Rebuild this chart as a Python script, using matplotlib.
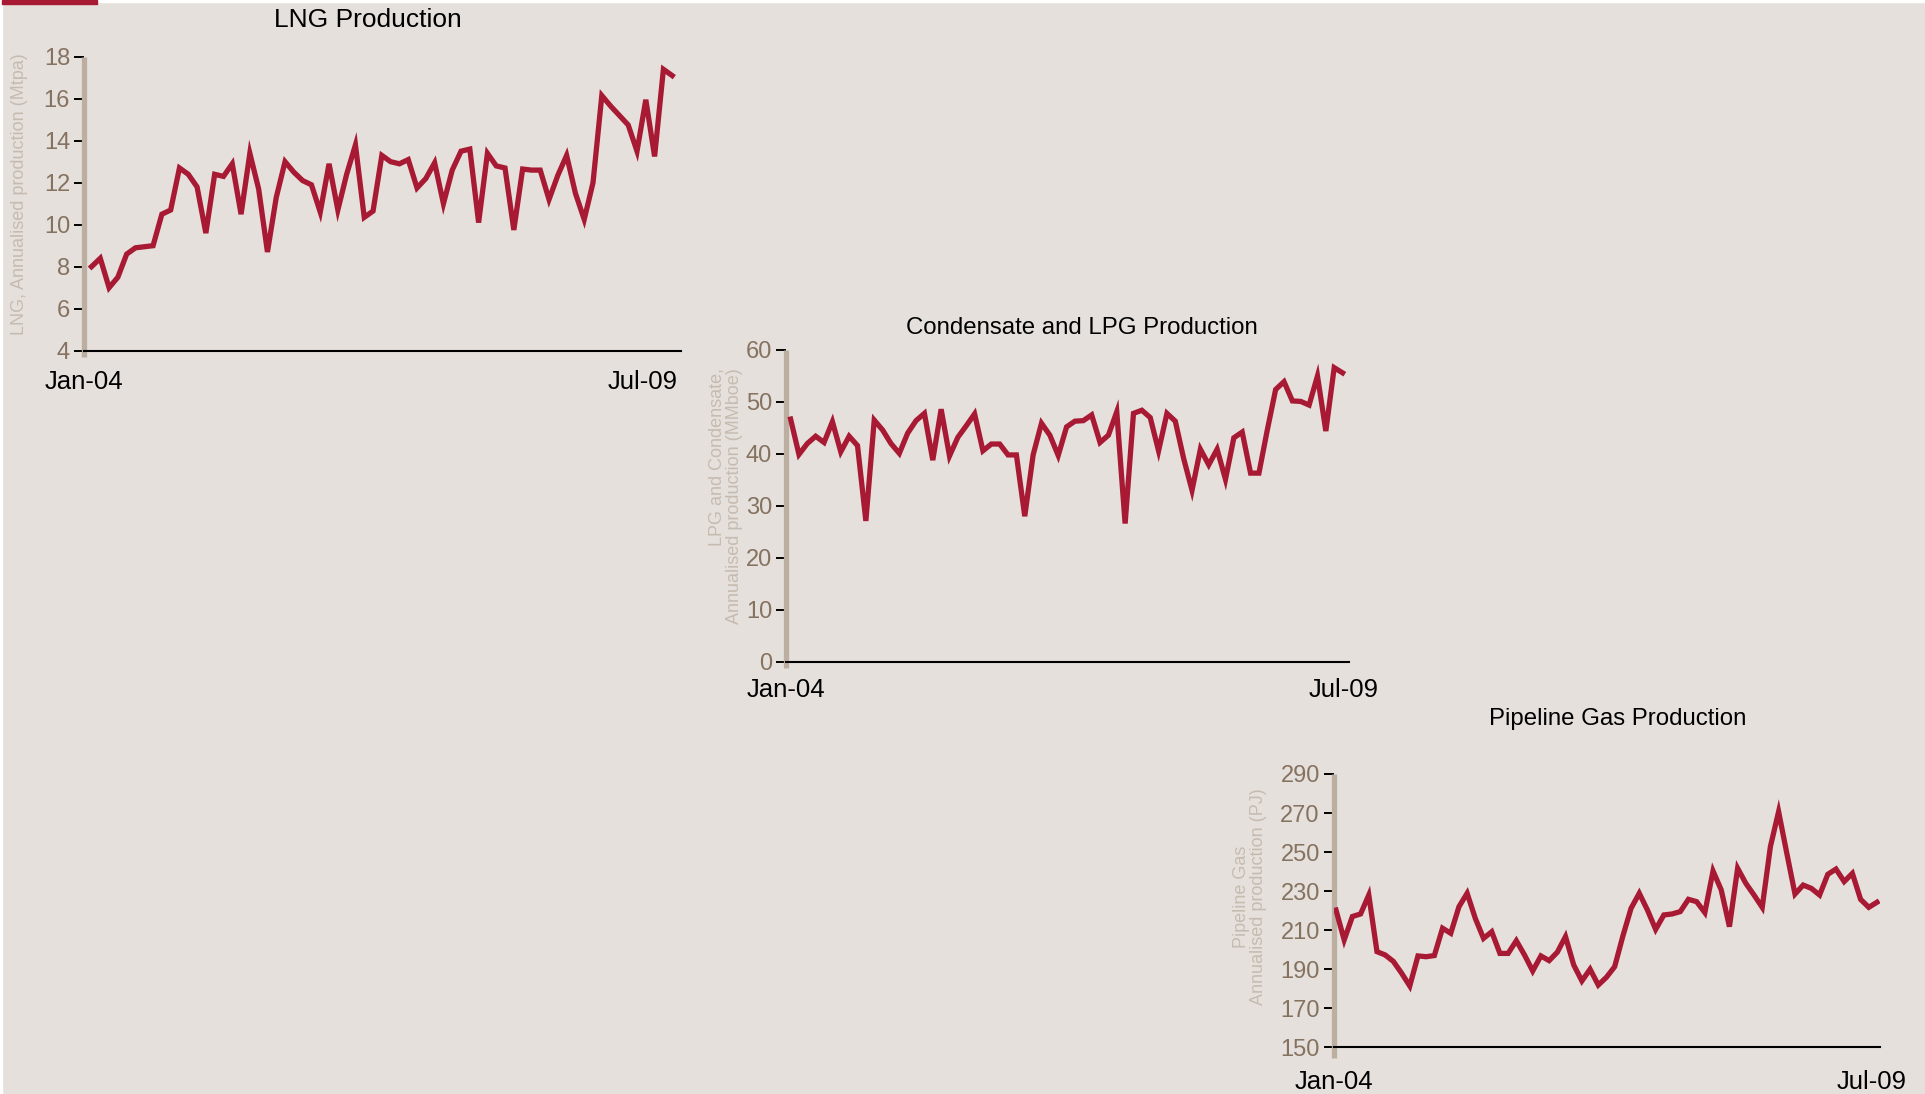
import matplotlib
matplotlib.use('Agg')
import matplotlib.pyplot as plt
from matplotlib.patches import Rectangle

W, H = 1925, 1094

months = list(range(67))  # Jan-04 .. Jul-09, monthly

lng = [8.0, 8.4, 7.0, 7.5, 8.6, 8.9, 8.95, 9.0, 10.5, 10.7,
       12.7, 12.4, 11.8, 9.6, 12.4, 12.3, 12.9, 10.5, 13.4, 11.7,
       8.7, 11.3, 13.0, 12.5, 12.1, 11.9, 10.6, 12.9, 10.7, 12.4,
       13.8, 10.35, 10.65, 13.3, 13.0, 12.9, 13.1, 11.75, 12.2, 12.95,
       11.0, 12.6, 13.5, 13.6, 10.1, 13.4, 12.8, 12.7, 9.75, 12.65,
       12.6, 12.6, 11.2, 12.35, 13.3, 11.5, 10.25, 12.0, 16.15, 15.65,
       15.2, 14.75, 13.5, 15.95, 13.25, 17.4, 17.1]

condensate = [46.7, 39.9, 42.0, 43.4, 42.2, 46.2, 40.4, 43.4, 41.6, 27.1,
              46.5, 44.6, 42.0, 40.1, 44.0, 46.4, 47.8, 38.8, 48.6, 39.6,
              43.2, 45.4, 47.7, 40.6, 41.9, 41.9, 39.8, 39.8, 28.0, 39.8,
              45.9, 43.6, 39.7, 45.2, 46.3, 46.4, 47.5, 42.2, 43.6, 48.1,
              26.6, 47.8, 48.4, 47.0, 40.6, 47.8, 46.3, 39.1, 33.0, 40.9,
              37.9, 40.9, 35.1, 43.1, 44.2, 36.3, 36.3, 44.6, 52.4, 53.9,
              50.2, 50.1, 49.4, 55.0, 44.4, 56.6, 55.6]

pipeline = [220.3, 205.0, 217.0, 218.3, 228.0, 199.0, 197.3, 194.0, 188.0, 181.4,
            196.8, 196.4, 197.0, 211.0, 208.4, 222.0, 228.9, 216.0, 205.8, 209.2,
            198.1, 198.1, 204.6, 197.3, 189.1, 196.8, 194.4, 198.7, 206.7, 192.2,
            184.0, 190.0, 181.9, 185.9, 191.3, 207.0, 221.2, 228.9, 220.3, 210.4,
            217.8, 218.3, 219.5, 225.8, 224.6, 219.0, 240.3, 230.6, 211.8, 241.7,
            234.0, 228.0, 221.7, 252.8, 270.7, 249.4, 228.5, 233.1, 231.4, 228.0,
            238.6, 241.3, 234.9, 239.1, 225.8, 221.7, 224.3]

lng_ticks = [4, 6, 8, 10, 12, 14, 16, 18]
cond_ticks = [0, 10, 20, 30, 40, 50, 60]
pipe_ticks = [150, 170, 190, 210, 230, 250, 270, 290]

BG = '#e5e0dc'
LINE = '#a81a33'
TICKLAB = '#85725f'
YLAB = '#c6bbb0'
BAR = '#bcafa2'

plt.rcParams['font.family'] = ['Liberation Sans', 'DejaVu Sans']

fig = plt.figure(figsize=(W / 100, H / 100), dpi=100, facecolor=BG)

# thin frame / logo remnants along the top-left edge
fig.patches.append(Rectangle((0, 1 - 2 / H), 1, 2 / H, transform=fig.transFigure,
                             color='white', zorder=0))
fig.patches.append(Rectangle((0, 0), 1.5 / W, 1, transform=fig.transFigure,
                             color='white', zorder=0))
fig.patches.append(Rectangle((2 / W, 1 - 4 / H), 95 / W, 4 / H, transform=fig.transFigure,
                             color=LINE, zorder=1))


def fx(x):
    return x / W


def fy(y):
    return 1 - y / H


def panel(box, xlim, values, ticks, title, title_xy, title_size, ylabel, ylabel_xy,
          ylab_align, jul_x, lab_y, bar_drop):
    left, right, top, bottom = box
    ax = fig.add_axes([fx(left), fy(bottom), (right - left) / W, (bottom - top) / H])
    ax.set_facecolor('none')
    ax.plot(months, values, color=LINE, lw=3.8, solid_joinstyle='miter', zorder=3)
    ax.set_xlim(*xlim)
    ax.set_ylim(ticks[0], ticks[-1])
    ax.set_yticks(ticks)
    ax.set_xticks([])
    for s in ['top', 'right', 'left']:
        ax.spines[s].set_visible(False)
    ax.spines['bottom'].set_color('black')
    ax.spines['bottom'].set_linewidth(1.5)
    ax.tick_params(axis='y', length=7, width=1.4, color='black', labelcolor=TICKLAB,
                   labelsize=17, pad=3)
    # tan vertical axis bar
    ax.plot([0, 0], [-bar_drop, 1], transform=ax.transAxes, color=BAR, lw=3.8,
            clip_on=False, solid_capstyle='butt', zorder=2)
    fig.text(fx(title_xy[0]), fy(title_xy[1]), title, ha='center', va='center',
             fontsize=title_size, color='black')
    fig.text(fx(ylabel_xy[0]), fy(ylabel_xy[1]), ylabel, ha='center', va='center',
             rotation=90, fontsize=13, color=YLAB, multialignment=ylab_align,
             linespacing=1.05)
    fig.text(fx(left), fy(lab_y), 'Jan-04', ha='center', va='center', fontsize=18.5)
    fig.text(fx(jul_x), fy(lab_y), 'Jul-09', ha='center', va='center', fontsize=18.5)
    return ax


panel((84, 681, 56.7, 350.7), (-0.85, 67.0), lng, lng_ticks,
      'LNG Production', (368, 20), 19,
      'LNG, Annualised production (Mtpa)', (20, 194), 'center',
      643, 382, 0.022)

panel((786, 1349, 350, 661.7), (-0.55, 66.77), condensate, cond_ticks,
      'Condensate and LPG Production', (1082, 328), 17.3,
      'LPG and Condensate,\nAnnualised production (MMboe)', (726, 496), 'right',
      1344, 690, 0.02)

panel((1333.7, 1880, 774, 1047.3), (-0.28, 66.37), pipeline, pipe_ticks,
      'Pipeline Gas Production', (1618, 719), 17.3,
      'Pipeline Gas\nAnnualised production (PJ)', (1250, 897), 'center',
      1872, 1082, 0.039)

fig.savefig('out.png', dpi=100, facecolor=BG)
